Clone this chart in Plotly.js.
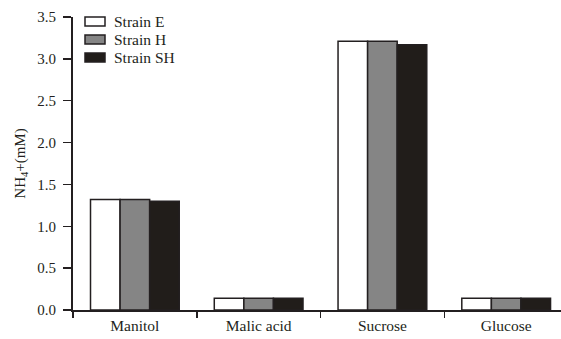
<!DOCTYPE html>
<html>
<head>
<meta charset="utf-8">
<script src="https://cdn.plot.ly/plotly-3.0.1.min.js"></script>
<style>html,body{margin:0;padding:0;background:#fff;}#chart{width:561px;height:339px;}</style>
</head>
<body>
<div id="chart"></div>
<script>
const categories = ["Manitol", "Malic acid", "Sucrose", "Glucose"];
const strainE = [1.32, 0.14, 3.21, 0.14];
const strainH = [1.32, 0.14, 3.21, 0.14];
const strainSH = [1.30, 0.14, 3.17, 0.14];
const seriesNames = ["Strain E", "Strain H", "Strain SH"];
const yTicks = [0, 0.5, 1.0, 1.5, 2.0, 2.5, 3.0, 3.5];
const yTickText = ["0.0", "0.5", "1.0", "1.5", "2.0", "2.5", "3.0", "3.5"];

const edge = "#231f20";
const fills = ["#ffffff", "#858585", "#211d1a"];
const data = [strainE, strainH, strainSH].map((vals, i) => ({
  type: "bar",
  name: seriesNames[i],
  x: categories,
  y: vals,
  marker: {color: fills[i], line: {color: edge, width: 1.5}}
}));

const font = {family: "Liberation Serif, Times New Roman, serif", size: 15.5, color: "#231f20"};
const tfont = {family: "Liberation Serif, Times New Roman, serif", size: 15, color: "#231f20"};

// custom legend (plot area: x 73..561 px, y 17..310 px)
const W = 488, H = 293, L = 73, T = 17;
const px = v => (v - L) / W;
const py = v => (T + H - v) / H;
const shapes = [], annotations = [];
seriesNames.forEach((name, i) => {
  const top = 17 + i * 18;
  shapes.push({type: "rect", xref: "paper", yref: "paper",
    x0: px(85), x1: px(105), y0: py(top + 9), y1: py(top),
    fillcolor: fills[i], line: {color: edge, width: 1.5}});
  annotations.push({xref: "paper", yref: "paper", x: px(112), y: py(top + 4.5),
    xanchor: "left", yanchor: "middle", showarrow: false, text: name, font: font});
});

const layout = {
  width: 561, height: 339,
  margin: {l: 73, r: 0, t: 17, b: 29, pad: 0},
  paper_bgcolor: "#fff", plot_bgcolor: "#fff",
  font: font,
  barmode: "group",
  bargap: 0.283,
  bargroupgap: 0,
  showlegend: false,
  shapes: shapes,
  annotations: annotations,
  xaxis: {
    range: [-0.5, 3.443],
    showline: true, linecolor: edge, linewidth: 2,
    ticks: "outside", tickson: "boundaries", ticklen: 6, tickwidth: 1.5, tickcolor: edge,
    showgrid: false, zeroline: false,
    tickfont: font, fixedrange: true
  },
  yaxis: {
    range: [0, 3.5],
    tickvals: yTicks, ticktext: yTickText,
    showline: true, linecolor: edge, linewidth: 2,
    ticks: "outside", ticklen: 8, tickwidth: 1.5, tickcolor: edge,
    ticklabelstandoff: 4,
    showgrid: false, zeroline: false,
    tickfont: tfont,
    title: {text: "NH<sub>4</sub>+(mM)", font: tfont, standoff: 8}
  }
};
Plotly.newPlot("chart", data, layout, {staticPlot: true, displayModeBar: false});
</script>
</body>
</html>
